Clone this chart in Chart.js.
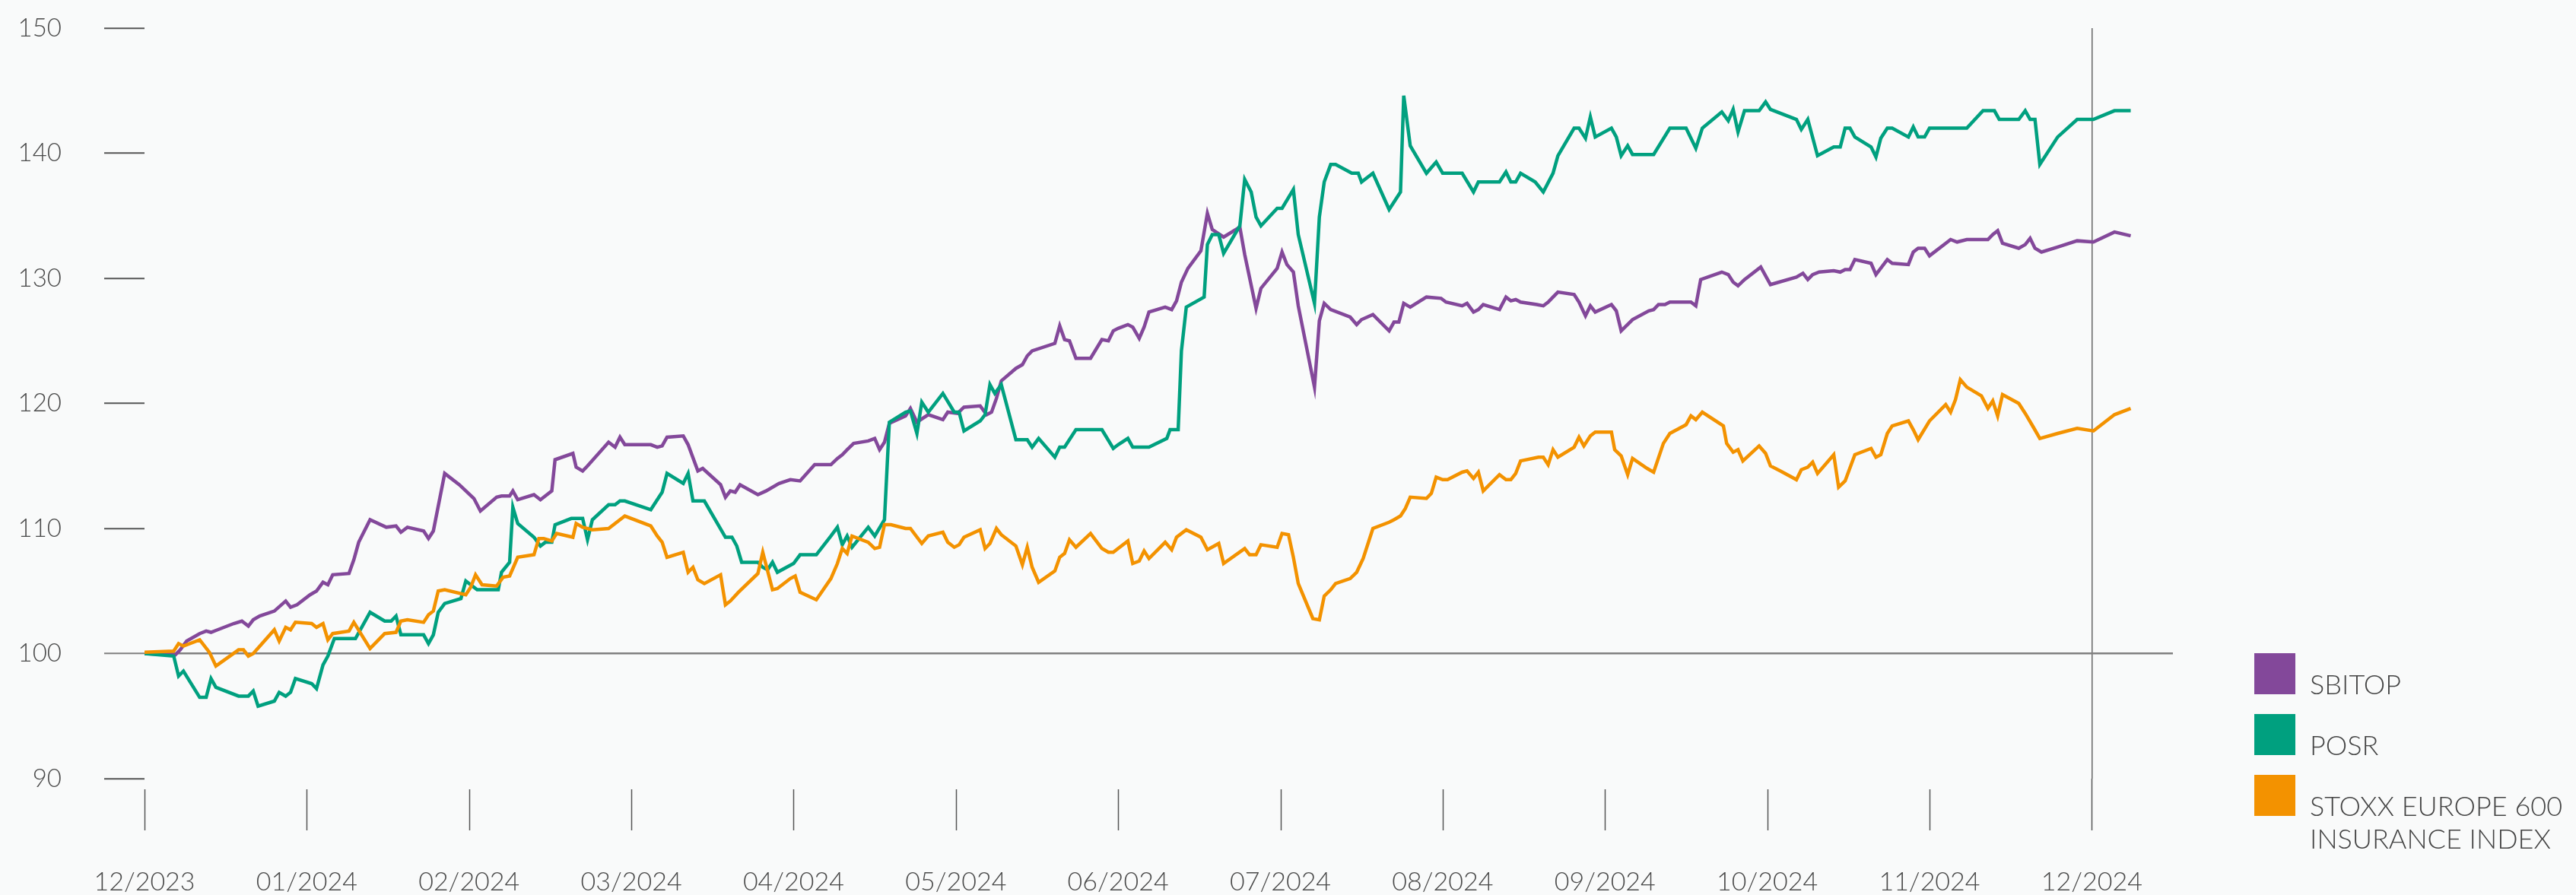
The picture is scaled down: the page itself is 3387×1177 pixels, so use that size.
<!DOCTYPE html>
<html>
<head>
<meta charset="utf-8">
<script src="https://cdn.jsdelivr.net/npm/chart.js@4.4.1/dist/chart.umd.min.js"></script>
<style>
  html, body { margin: 0; padding: 0; background: #f9fafa; }
  #wrap { position: relative; width: 3387px; height: 1177px; }
  #legend { position: absolute; left: 0; top: 0; font-family: Lato, "Open Sans", sans-serif; font-weight: 300; }
  .lg-box { position: absolute; width: 54px; height: 54px; }
  .lg-text { position: absolute; font-size: 36px; line-height: 43px; color: #444; white-space: nowrap; }
</style>
</head>
<body>
<div id="wrap">
  <canvas id="js--chart" width="3387" height="1177"></canvas>
  <div id="legend"></div>
</div>
<script>
// x values are months since 12/2023 (0 = 12/2023, 12 = 12/2024)
const monthLabels = [
  "12/2023", "01/2024", "02/2024", "03/2024", "04/2024", "05/2024", "06/2024",
  "07/2024", "08/2024", "09/2024", "10/2024", "11/2024", "12/2024",
];

const seriesNames = ["SBITOP", "POSR", ["STOXX EUROPE 600", "INSURANCE INDEX"]];
const seriesColors = ["#83489a", "#00a07f", "#f39200"];

const sbitop = [
  [0,100],[0.19,99.9],[0.22,100.3],[0.26,101.0],[0.34,101.6],[0.38,101.8],[0.41,101.7],[0.45,101.9],
  [0.55,102.4],[0.60,102.6],[0.64,102.2],[0.67,102.7],[0.71,103.0],[0.80,103.4],[0.87,104.2],[0.90,103.7],
  [0.94,103.9],[1.02,104.7],[1.06,105.0],[1.10,105.7],[1.13,105.5],[1.16,106.3],[1.26,106.4],[1.29,107.5],
  [1.32,108.9],[1.39,110.7],[1.49,110.1],[1.55,110.2],[1.58,109.7],[1.62,110.1],[1.72,109.8],[1.75,109.2],
  [1.78,109.8],[1.85,114.4],[1.94,113.5],[2.03,112.4],[2.07,111.4],[2.17,112.5],[2.20,112.6],[2.25,112.6],
  [2.27,113.0],[2.30,112.3],[2.40,112.7],[2.44,112.3],[2.51,113.0],[2.53,115.5],[2.64,116.0],[2.66,114.9],
  [2.70,114.6],[2.73,115.0],[2.86,116.9],[2.90,116.5],[2.93,117.3],[2.96,116.7],[3.12,116.7],[3.16,116.5],
  [3.19,116.6],[3.22,117.3],[3.32,117.4],[3.35,116.7],[3.41,114.6],[3.44,114.8],[3.55,113.5],[3.58,112.5],
  [3.61,113.0],[3.64,112.9],[3.67,113.5],[3.78,112.7],[3.83,113.0],[3.91,113.6],[3.98,113.9],[4.04,113.8],
  [4.13,115.1],[4.23,115.1],[4.27,115.6],[4.30,115.9],[4.33,116.3],[4.37,116.8],[4.46,117.0],[4.50,117.2],
  [4.53,116.3],[4.56,116.9],[4.59,118.4],[4.69,119.0],[4.72,119.6],[4.76,118.5],[4.83,119.1],[4.92,118.7],
  [4.95,119.3],[5.01,119.2],[5.05,119.7],[5.15,119.8],[5.19,119.1],[5.22,119.3],[5.25,120.4],[5.28,121.8],
  [5.37,122.8],[5.41,123.1],[5.44,123.8],[5.47,124.2],[5.61,124.8],[5.64,126.2],[5.67,125.1],[5.70,125.0],
  [5.74,123.6],[5.83,123.6],[5.90,125.1],[5.94,125.0],[5.97,125.8],[6.00,126.0],[6.06,126.3],[6.09,126.1],
  [6.13,125.2],[6.16,126.1],[6.19,127.3],[6.29,127.7],[6.33,127.5],[6.36,128.2],[6.39,129.7],[6.43,130.8],
  [6.51,132.2],[6.55,135.2],[6.58,133.9],[6.65,133.3],[6.75,134.1],[6.78,131.9],[6.85,127.6],[6.88,129.2],
  [6.98,130.8],[7.01,132.1],[7.04,131.1],[7.08,130.5],[7.11,127.8],[7.21,121.3],[7.24,126.6],[7.27,128.0],
  [7.31,127.5],[7.43,126.9],[7.47,126.3],[7.50,126.7],[7.57,127.1],[7.67,125.8],[7.70,126.5],[7.73,126.5],
  [7.76,128.0],[7.80,127.7],[7.90,128.5],[7.99,128.4],[8.02,128.1],[8.12,127.8],[8.15,128.0],[8.19,127.3],
  [8.22,127.5],[8.25,127.9],[8.35,127.5],[8.39,128.5],[8.42,128.2],[8.45,128.3],[8.48,128.1],[8.58,127.9],
  [8.62,127.8],[8.65,128.1],[8.68,128.5],[8.71,128.9],[8.81,128.7],[8.84,128.1],[8.88,127.0],[8.91,127.8],
  [8.94,127.3],[9.04,127.9],[9.07,127.4],[9.10,125.8],[9.17,126.7],[9.27,127.4],[9.30,127.5],[9.33,127.9],
  [9.37,127.9],[9.40,128.1],[9.53,128.1],[9.56,127.8],[9.59,129.9],[9.72,130.5],[9.76,130.3],[9.79,129.7],
  [9.82,129.4],[9.86,129.9],[9.96,130.9],[10.02,129.5],[10.18,130.1],[10.22,130.4],[10.25,129.9],[10.28,130.3],
  [10.32,130.5],[10.41,130.6],[10.45,130.5],[10.48,130.7],[10.51,130.7],[10.54,131.5],[10.64,131.2],[10.67,130.3],
  [10.74,131.5],[10.77,131.2],[10.87,131.1],[10.90,132.1],[10.93,132.4],[10.97,132.4],[11.00,131.8],[11.10,132.8],
  [11.13,133.1],[11.17,132.9],[11.23,133.1],[11.36,133.1],[11.39,133.5],[11.42,133.8],[11.45,132.8],[11.55,132.4],
  [11.59,132.7],[11.62,133.2],[11.65,132.4],[11.69,132.1],[11.79,132.5],[11.91,133.0],[12.01,132.9],[12.14,133.7],
  [12.24,133.4],
];

const posr = [
  [0,100],[0.18,99.8],[0.21,98.2],[0.24,98.6],[0.34,96.5],[0.38,96.5],[0.41,98.0],[0.44,97.3],
  [0.58,96.6],[0.64,96.6],[0.67,97.0],[0.70,95.8],[0.80,96.2],[0.83,96.9],[0.87,96.6],[0.90,96.9],
  [0.93,98.0],[1.03,97.6],[1.06,97.2],[1.10,99.1],[1.13,99.8],[1.17,101.2],[1.30,101.2],[1.39,103.3],
  [1.48,102.6],[1.52,102.6],[1.55,103.0],[1.58,101.5],[1.72,101.5],[1.75,100.8],[1.78,101.5],[1.81,103.3],
  [1.85,104.0],[1.95,104.4],[1.98,105.8],[2.01,105.5],[2.05,105.1],[2.18,105.1],[2.20,106.5],[2.25,107.3],
  [2.27,111.7],[2.30,110.4],[2.40,109.3],[2.44,108.6],[2.47,108.9],[2.51,108.9],[2.53,110.3],[2.63,110.8],
  [2.70,110.8],[2.73,109.1],[2.76,110.7],[2.86,111.9],[2.90,111.9],[2.93,112.2],[2.96,112.2],[3.12,111.5],
  [3.19,112.9],[3.22,114.4],[3.32,113.6],[3.35,114.4],[3.38,112.2],[3.45,112.2],[3.58,109.3],[3.62,109.3],
  [3.65,108.6],[3.68,107.3],[3.78,107.3],[3.81,106.9],[3.84,106.7],[3.87,107.3],[3.90,106.5],[4.00,107.2],
  [4.04,107.9],[4.14,107.9],[4.23,109.4],[4.27,110.1],[4.30,108.7],[4.33,109.4],[4.36,108.5],[4.46,110.1],
  [4.50,109.4],[4.56,110.7],[4.59,118.5],[4.69,119.3],[4.72,119.4],[4.76,117.6],[4.79,120.1],[4.83,119.3],
  [4.92,120.8],[4.99,119.3],[5.02,119.3],[5.05,117.8],[5.15,118.6],[5.18,119.1],[5.21,121.5],[5.24,120.8],
  [5.28,121.5],[5.37,117.1],[5.44,117.1],[5.47,116.5],[5.51,117.2],[5.61,115.7],[5.64,116.5],[5.67,116.5],
  [5.74,117.9],[5.90,117.9],[5.97,116.4],[6.00,116.7],[6.06,117.2],[6.09,116.5],[6.19,116.5],[6.30,117.2],
  [6.32,117.9],[6.37,117.9],[6.39,124.2],[6.42,127.7],[6.53,128.5],[6.55,132.7],[6.58,133.5],[6.62,133.5],
  [6.65,132.0],[6.75,134.2],[6.78,137.9],[6.82,136.9],[6.85,134.9],[6.88,134.2],[6.98,135.6],[7.01,135.6],
  [7.08,137.1],[7.11,133.5],[7.21,128.0],[7.24,134.9],[7.27,137.7],[7.31,139.1],[7.34,139.1],[7.44,138.4],
  [7.48,138.4],[7.50,137.7],[7.57,138.4],[7.67,135.5],[7.74,136.9],[7.76,144.6],[7.80,140.6],[7.90,138.4],
  [7.96,139.3],[8.00,138.4],[8.12,138.4],[8.19,136.9],[8.22,137.7],[8.35,137.7],[8.39,138.5],[8.42,137.7],
  [8.45,137.7],[8.48,138.4],[8.57,137.7],[8.62,136.9],[8.68,138.4],[8.71,139.8],[8.81,142.0],[8.84,142.0],
  [8.88,141.2],[8.91,142.9],[8.94,141.3],[9.04,142.0],[9.07,141.3],[9.10,139.8],[9.14,140.6],[9.17,139.9],
  [9.30,139.9],[9.40,142.0],[9.50,142.0],[9.56,140.4],[9.60,142.0],[9.72,143.3],[9.76,142.6],[9.79,143.5],
  [9.82,141.7],[9.86,143.4],[9.95,143.4],[9.99,144.1],[10.02,143.5],[10.18,142.7],[10.21,141.9],[10.25,142.7],
  [10.31,139.8],[10.41,140.5],[10.45,140.5],[10.48,142.0],[10.51,142.0],[10.54,141.3],[10.64,140.5],[10.67,139.7],
  [10.70,141.2],[10.74,142.0],[10.77,142.0],[10.87,141.3],[10.90,142.1],[10.93,141.3],[10.97,141.3],[11.00,142.0],
  [11.23,142.0],[11.33,143.4],[11.40,143.4],[11.43,142.7],[11.55,142.7],[11.59,143.4],[11.62,142.7],[11.65,142.7],
  [11.68,139.1],[11.79,141.3],[11.91,142.7],[12.01,142.7],[12.14,143.4],[12.24,143.4],
];

const stoxx = [
  [0,100.1],[0.18,100.2],[0.21,100.8],[0.24,100.6],[0.34,101.1],[0.40,100.1],[0.44,99.0],[0.58,100.3],
  [0.61,100.3],[0.64,99.8],[0.67,100.0],[0.80,101.9],[0.83,101.0],[0.87,102.1],[0.90,101.9],[0.93,102.5],
  [1.03,102.4],[1.06,102.1],[1.10,102.4],[1.13,101.1],[1.16,101.6],[1.26,101.8],[1.29,102.5],[1.39,100.4],
  [1.48,101.6],[1.55,101.7],[1.58,102.6],[1.62,102.7],[1.72,102.5],[1.75,103.1],[1.78,103.4],[1.81,105.0],
  [1.85,105.1],[1.98,104.7],[2.01,105.3],[2.04,106.3],[2.08,105.5],[2.17,105.4],[2.21,106.1],[2.25,106.2],
  [2.30,107.7],[2.40,107.9],[2.43,109.2],[2.46,109.2],[2.51,109.0],[2.54,109.6],[2.64,109.3],[2.66,110.4],
  [2.70,110.1],[2.76,109.9],[2.86,110.0],[2.96,111.0],[3.12,110.2],[3.16,109.4],[3.19,108.9],[3.22,107.7],
  [3.32,108.1],[3.35,106.5],[3.38,106.9],[3.41,105.9],[3.45,105.6],[3.55,106.3],[3.58,103.9],[3.61,104.2],
  [3.66,104.9],[3.78,106.4],[3.81,108.1],[3.87,105.1],[3.90,105.2],[3.98,106.0],[4.01,106.2],[4.04,104.9],
  [4.14,104.3],[4.23,106.0],[4.27,107.2],[4.30,108.4],[4.33,108.0],[4.36,109.4],[4.46,108.9],[4.50,108.4],
  [4.53,108.5],[4.56,110.3],[4.60,110.3],[4.69,110.0],[4.72,110.0],[4.79,108.8],[4.83,109.4],[4.92,109.7],
  [4.95,108.9],[4.99,108.5],[5.02,108.7],[5.05,109.3],[5.15,109.9],[5.18,108.4],[5.21,108.8],[5.25,110.0],
  [5.28,109.5],[5.37,108.6],[5.41,107.1],[5.44,108.5],[5.47,106.9],[5.51,105.7],[5.61,106.6],[5.64,107.7],
  [5.67,108.0],[5.70,109.1],[5.74,108.5],[5.83,109.6],[5.90,108.4],[5.94,108.1],[5.97,108.1],[6.00,108.4],
  [6.06,109.0],[6.09,107.2],[6.13,107.4],[6.16,108.2],[6.19,107.6],[6.29,108.9],[6.33,108.3],[6.36,109.3],
  [6.42,109.9],[6.51,109.3],[6.55,108.3],[6.62,108.8],[6.65,107.2],[6.78,108.4],[6.81,107.9],[6.85,107.9],
  [6.88,108.7],[6.98,108.5],[7.01,109.6],[7.05,109.5],[7.08,107.7],[7.11,105.6],[7.20,102.8],[7.24,102.7],
  [7.27,104.6],[7.31,105.1],[7.34,105.6],[7.43,106.0],[7.47,106.5],[7.51,107.6],[7.57,110.0],[7.67,110.5],
  [7.70,110.7],[7.74,111.0],[7.77,111.6],[7.80,112.5],[7.90,112.4],[7.93,112.8],[7.96,114.1],[8.00,113.9],
  [8.03,113.9],[8.12,114.5],[8.15,114.6],[8.19,114.0],[8.22,114.5],[8.25,113.0],[8.35,114.3],[8.39,113.9],
  [8.42,113.9],[8.45,114.4],[8.48,115.4],[8.59,115.7],[8.62,115.7],[8.65,115.1],[8.68,116.3],[8.71,115.7],
  [8.81,116.5],[8.84,117.3],[8.87,116.6],[8.91,117.4],[8.94,117.7],[9.04,117.7],[9.06,116.3],[9.10,115.8],
  [9.14,114.3],[9.17,115.6],[9.26,114.8],[9.30,114.5],[9.36,116.8],[9.40,117.6],[9.50,118.3],[9.53,119.0],
  [9.56,118.7],[9.60,119.3],[9.73,118.2],[9.75,116.8],[9.79,116.1],[9.82,116.3],[9.85,115.4],[9.95,116.6],
  [9.99,116.0],[10.02,115.0],[10.08,114.6],[10.18,113.9],[10.21,114.7],[10.25,114.9],[10.28,115.3],[10.31,114.4],
  [10.41,115.9],[10.44,113.3],[10.48,113.8],[10.54,115.9],[10.64,116.4],[10.67,115.7],[10.70,115.9],[10.74,117.6],
  [10.77,118.2],[10.87,118.6],[10.90,117.9],[10.93,117.1],[11.00,118.6],[11.10,119.9],[11.13,119.3],[11.16,120.3],
  [11.19,121.9],[11.23,121.3],[11.32,120.6],[11.36,119.6],[11.39,120.2],[11.42,119.0],[11.45,120.7],[11.55,120.0],
  [11.59,119.2],[11.64,118.1],[11.68,117.2],[11.79,117.6],[11.91,118.0],[12.01,117.8],[12.14,119.1],[12.24,119.6],
];

const yTicks = [90, 100, 110, 120, 130, 140, 150];

const FONT = "Lato, 'Open Sans', sans-serif";
const TEXT = "#4a4a4a";

function toPoints(arr) {
  return arr.map((p) => ({ x: p[0], y: p[1] }));
}

// small tick marks under the plot, the 12/2024 one joins the vertical line
const monthMarks = {
  id: "monthMarks",
  afterDraw(chart) {
    const ctx = chart.ctx;
    const xs = chart.scales.x;
    const bottom = chart.chartArea.bottom;
    ctx.save();
    ctx.strokeStyle = "#555";
    ctx.lineWidth = 1.5;
    monthLabels.forEach((lbl, i) => {
      const x = Math.round(xs.getPixelForValue(i)) + 0.5;
      ctx.beginPath();
      ctx.moveTo(x, i === 12 ? bottom : bottom + 14);
      ctx.lineTo(x, bottom + 68);
      ctx.stroke();
    });
    ctx.restore();
  },
};

const datasets = [sbitop, posr, stoxx].map((s, i) => ({
  label: Array.isArray(seriesNames[i]) ? seriesNames[i].join(" ") : seriesNames[i],
  data: toPoints(s),
  borderColor: seriesColors[i],
  backgroundColor: seriesColors[i],
  borderWidth: 4.5,
  pointRadius: 0,
  tension: 0,
  borderJoinStyle: "miter",
  order: 3 - i,
}));

const config = {
  type: "line",
  data: { datasets: datasets },
  options: {
    responsive: false,
    devicePixelRatio: 1,
    animation: false,
    layout: { padding: { left: 0, right: 530, top: 37, bottom: 0 } },
    plugins: { legend: { display: false }, tooltip: { enabled: false } },
    scales: {
      x: {
        type: "linear",
        min: 0,
        max: 12.5,
        afterBuildTicks: (scale) => {
          scale.ticks = monthLabels.map((l, i) => ({ value: i }));
        },
        afterFit: (scale) => {
          scale.height = 153;
          scale.paddingLeft = 0;
          scale.paddingRight = 0;
        },
        border: { display: false },
        grid: {
          drawTicks: false,
          color: (c) => (c.tick && c.tick.value === 12 ? "#666" : "transparent"),
          lineWidth: 1.5,
        },
        ticks: {
          padding: 116,
          maxRotation: 0,
          autoSkip: false,
          color: TEXT,
          font: { family: FONT, size: 34, weight: 300 },
          callback: (v) => monthLabels[v] || "",
        },
      },
      y: {
        min: 90,
        max: 150,
        afterBuildTicks: (scale) => {
          scale.ticks = yTicks.map((v) => ({ value: v }));
        },
        afterFit: (scale) => {
          scale.width = 190;
          scale.paddingTop = 0;
          scale.paddingBottom = 0;
        },
        border: { display: false },
        grid: {
          tickLength: 53,
          tickWidth: 2,
          tickColor: (c) => (c.tick && c.tick.value === 100 ? "#808080" : "#555"),
          color: (c) => (c.tick && c.tick.value === 100 ? "#808080" : "transparent"),
          lineWidth: 2.5,
        },
        ticks: {
          padding: 56,
          color: TEXT,
          font: { family: FONT, size: 33, weight: 300 },
        },
      },
    },
  },
  plugins: [monthMarks],
};

new Chart(document.getElementById("js--chart"), config);

// legend on the right, text bottom lines up with the colour box
const legend = document.getElementById("legend");
seriesNames.forEach((name, i) => {
  const top = 859 + i * 80;
  const box = document.createElement("div");
  box.className = "lg-box";
  box.style.left = "2964px";
  box.style.top = top + "px";
  box.style.background = seriesColors[i];
  legend.appendChild(box);

  const txt = document.createElement("div");
  txt.className = "lg-text";
  txt.style.left = "3037px";
  txt.style.top = top + 54 - 35 + "px";
  txt.innerHTML = Array.isArray(name) ? name.join("<br>") : name;
  legend.appendChild(txt);
});
</script>
</body>
</html>
